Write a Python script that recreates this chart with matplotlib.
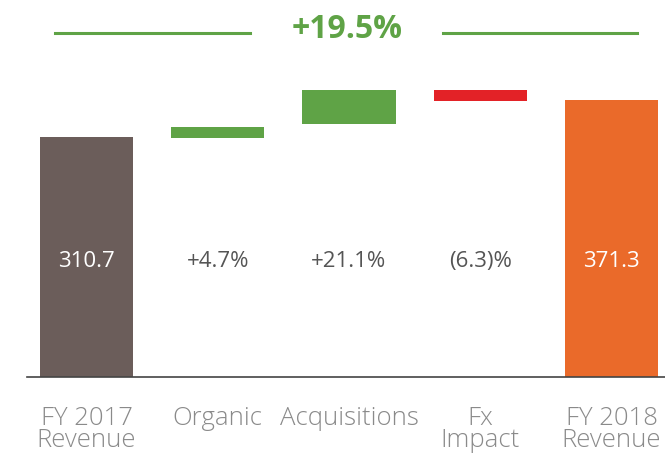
import matplotlib
matplotlib.use('Agg')
import matplotlib.pyplot as plt
from matplotlib import font_manager as fm
from matplotlib.lines import Line2D

# Categories and labels shown in the chart
categories = ['FY 2017\nRevenue', 'Organic', 'Acquisitions', 'Fx\nImpact', 'FY 2018\nRevenue']
value_labels = ['310.7', '+4.7%', '+21.1%', '(6.3)%', '371.3']
total_change = '+19.5%'

# Drawn bar levels (chart is illustrative, FY2017 = 310.7)
bar_starts = [0, 309.4, 327.5, 371.5, 0]
bar_ends = [310.7, 323.6, 371.5, 357.3, 358.6]
bar_colors = ['#6b5d5a', '#5fa346', '#5fa346', '#e32227', '#ea6a2a']
label_colors = ['white', '#555555', '#555555', '#555555', 'white']

available = {f.name for f in fm.fontManager.ttflist}
body = 'Open Sans' if 'Open Sans' in available else 'DejaVu Sans'

fig = plt.figure(figsize=(6.65, 4.53), dpi=100)
ax = fig.add_axes([0, 76 / 453, 1, 377 / 453])

x = list(range(len(categories)))
heights = [e - s for s, e in zip(bar_starts, bar_ends)]
ax.bar(x, heights, bottom=bar_starts, width=0.71, color=bar_colors)

for i, txt in enumerate(value_labels):
    ax.text(i, 150, txt, ha='center', va='center', fontsize=16,
            color=label_colors[i], family=body)

ax.set_xlim(-86.5 / 131.25, (665 - 86.5) / 131.25)
ax.set_ylim(0, 377 * 310.7 / 240)
ax.plot([-60 / 131.25, 5], [0, 0], color='#444444', lw=1.2, clip_on=False)

for i, cat in enumerate(categories):
    ax.text(i, -29 * 310.7 / 240, cat, ha='center', va='top', fontsize=18.5,
            color='#8a8a8a', family=body, fontweight='light',
            linespacing=0.86, clip_on=False)

for side in ['top', 'right', 'left', 'bottom']:
    ax.spines[side].set_visible(False)
ax.set_xticks([])
ax.set_yticks([])

# headline growth with green rules either side
fig.text(347 / 665, 1 - 29 / 453, total_change, ha='center', va='center',
         fontsize=23, fontweight='bold', color='#5fa346', family=body)
y_rule = 1 - 33 / 453
fig.add_artist(Line2D([55 / 665, 250 / 665], [y_rule, y_rule], color='#5fa346', lw=2.2))
fig.add_artist(Line2D([443 / 665, 637 / 665], [y_rule, y_rule], color='#5fa346', lw=2.2))

fig.savefig('out.png', dpi=100)
